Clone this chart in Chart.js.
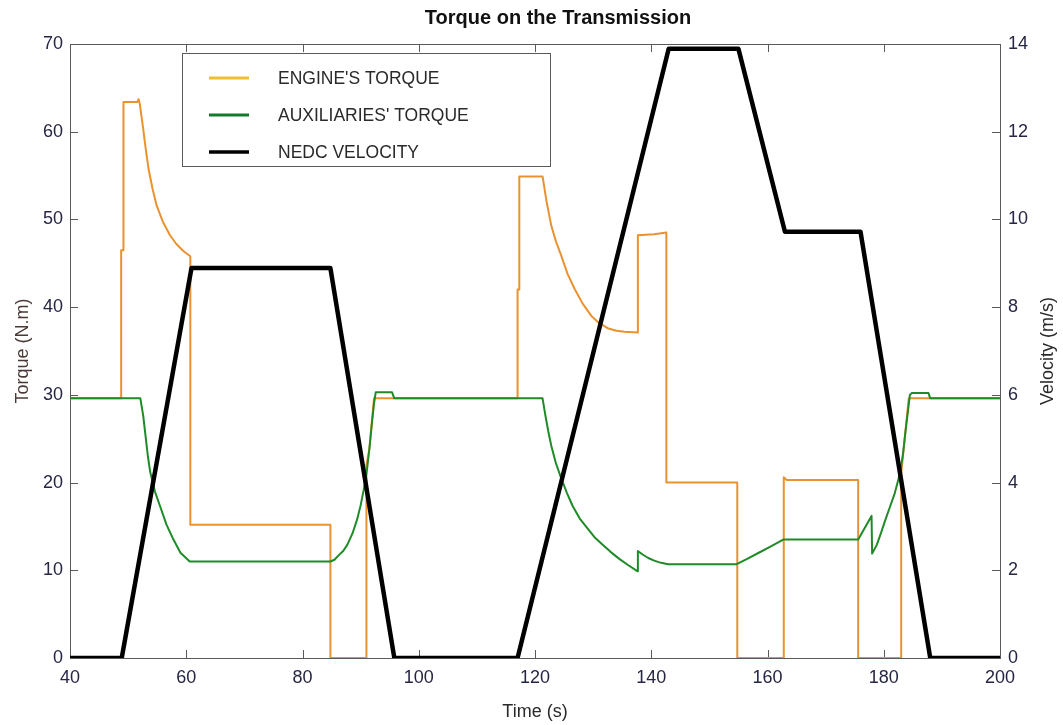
<!DOCTYPE html>
<html>
<head>
<meta charset="utf-8">
<script src="https://cdn.jsdelivr.net/npm/chart.js@4.4.0/dist/chart.umd.min.js"></script>
<style>
  html, body { margin: 0; padding: 0; background: #fff; }
</style>
</head>
<body>
<canvas id="chart" width="1063" height="725"></canvas>
<script>
// time (s) / value pairs
const engineTime = [40, 48.8, 48.8, 49.2, 49.2, 51.6, 51.8, 52.0, 52.6, 53.0, 53.5, 54.2, 54.9, 56.0, 57.2, 58.3, 59.5, 60.7, 60.7, 84.8, 84.8, 91.0, 91.0, 91.5, 92.3, 117.0, 117.0, 117.3, 117.3, 121.3, 122.0, 122.8, 123.6, 124.5, 125.6, 126.8, 128.2, 129.7, 131.0, 132.5, 134.0, 135.4, 137.7, 137.7, 140.5, 142.6, 142.6, 154.8, 154.8, 162.8, 162.8, 163.3, 175.6, 175.6, 183.0, 183.0, 183.7, 184.3, 200];
const engineTorque = [29.6, 29.6, 46.5, 46.5, 63.4, 63.4, 63.7, 63.2, 60.3, 58.2, 55.8, 53.5, 51.6, 49.7, 48.2, 47.2, 46.4, 45.8, 15.2, 15.2, 0, 0, 22.0, 23.8, 29.6, 29.6, 42.0, 42.0, 54.9, 54.9, 52.0, 49.3, 47.5, 45.9, 43.8, 42.1, 40.4, 39.0, 38.2, 37.6, 37.3, 37.2, 37.1, 48.2, 48.3, 48.5, 20.0, 20.0, 0, 0, 20.6, 20.3, 20.3, 0, 0, 21.0, 25.6, 29.6, 29.6];

const auxTime = [40, 52.1, 52.6, 53.0, 53.4, 53.8, 54.6, 55.5, 56.6, 57.8, 59.0, 60.6, 84.8, 85.5, 86.2, 87.0, 87.7, 88.6, 89.4, 90.0, 90.6, 91.1, 91.5, 91.9, 92.3, 92.6, 95.4, 95.8, 121.3, 121.8, 122.3, 122.8, 123.6, 124.5, 125.5, 126.5, 127.7, 129.0, 130.2, 131.5, 133.0, 134.5, 136.0, 137.6, 137.7, 138.5, 139.5, 140.5, 141.7, 142.9, 154.7, 156.5, 158.5, 160.5, 162.7, 175.6, 177.9, 178.0, 178.8, 179.5, 180.2, 181.0, 181.9, 182.3, 182.8, 183.3, 183.7, 184.1, 184.5, 184.8, 187.7, 188.0, 200];
const auxTorque = [29.6, 29.6, 27.6, 25.3, 23.0, 21.2, 19.0, 17.3, 15.2, 13.5, 12.0, 11.0, 11.0, 11.2, 11.7, 12.2, 12.9, 14.2, 15.8, 17.4, 19.4, 21.5, 23.8, 26.5, 29.0, 30.3, 30.3, 29.6, 29.6, 27.6, 25.8, 24.2, 22.2, 20.5, 18.8, 17.3, 15.9, 14.8, 13.8, 13.0, 12.1, 11.3, 10.6, 9.9, 12.2, 11.8, 11.4, 11.1, 10.85, 10.7, 10.7, 11.3, 12.0, 12.7, 13.5, 13.5, 16.2, 11.9, 12.9, 14.2, 15.6, 17.1, 18.8, 19.8, 21.1, 23.2, 25.6, 27.8, 30.0, 30.2, 30.2, 29.6, 29.6];

const speedTime = [40, 48.9, 60.9, 84.8, 95.8, 117, 143, 155, 163, 176, 188, 200];
const speedValue = [0, 0, 8.89, 8.89, 0, 0, 13.89, 13.89, 9.72, 9.72, 0, 0];

const xTicks = [40, 200, 20];
const torqueTicks = [0, 70, 10];
const speedTicks = [0, 14, 2];

const legendColors = ['#F2BE2C', '#127A2C', '#000000'];
const tickColor = '#262645';
const chartTitle = 'Torque on the Transmission';
const speedTitle = 'Velocity (m/s)';

function pairs(xs, ys) {
    return xs.map((x, i) => ({ x: x, y: ys[i] }));
}

Chart.defaults.font.family = "'Liberation Sans', Arial, sans-serif";

// inward ticks, the box round the plot, and the titles placed like the original
const frameTicks = {
    id: 'frameTicks',
    beforeDatasetsDraw(chart) {
        const { ctx, chartArea: a, scales } = chart;
        const len = 8;
        ctx.save();
        ctx.strokeStyle = '#5a5a5a';
        ctx.lineWidth = 1;
        ctx.beginPath();
        scales.x.ticks.forEach(t => {
            const px = Math.round(scales.x.getPixelForValue(t.value)) + 0.5;
            ctx.moveTo(px, a.bottom); ctx.lineTo(px, a.bottom - len);
            ctx.moveTo(px, a.top); ctx.lineTo(px, a.top + len);
        });
        scales.y.ticks.forEach(t => {
            const py = Math.round(scales.y.getPixelForValue(t.value)) + 0.5;
            ctx.moveTo(a.left, py); ctx.lineTo(a.left + len, py);
        });
        scales.y1.ticks.forEach(t => {
            const py = Math.round(scales.y1.getPixelForValue(t.value)) + 0.5;
            ctx.moveTo(a.right, py); ctx.lineTo(a.right - len, py);
        });
        ctx.stroke();
        ctx.strokeRect(Math.round(a.left) + 0.5, Math.round(a.top) + 0.5,
            Math.round(a.right - a.left), Math.round(a.bottom - a.top));

        // main title, a bit right of centre as in the picture
        ctx.font = "bold 20px 'Liberation Sans', Arial, sans-serif";
        ctx.fillStyle = '#111';
        ctx.textAlign = 'center';
        ctx.textBaseline = 'middle';
        ctx.fillText(chartTitle, a.left + 488, 18);

        // right axis title reads upwards in the original
        ctx.translate(a.right + 48, (a.top + a.bottom) / 2);
        ctx.rotate(-Math.PI / 2);
        ctx.font = "18px 'Liberation Sans', Arial, sans-serif";
        ctx.fillStyle = '#2a2a2a';
        ctx.fillText(speedTitle, 0, 0);
        ctx.restore();
    }
};

// legend box like the original one
const boxLegend = {
    id: 'boxLegend',
    afterDatasetsDraw(chart) {
        const { ctx, chartArea: a } = chart;
        const x0 = a.left + 112, y0 = a.top + 9, w = 368, h = 113;
        ctx.save();
        ctx.fillStyle = '#fff';
        ctx.fillRect(x0, y0, w, h);
        ctx.strokeStyle = '#5a5a5a';
        ctx.lineWidth = 1;
        ctx.strokeRect(x0 + 0.5, y0 + 0.5, w, h);
        ctx.font = "17.5px 'Liberation Sans', Arial, sans-serif";
        ctx.textBaseline = 'middle';
        chart.data.datasets.forEach((ds, i) => {
            const y = y0 + 25 + i * 37;
            ctx.strokeStyle = legendColors[i];
            ctx.lineWidth = i === 2 ? 3.5 : 3;
            ctx.beginPath();
            ctx.moveTo(x0 + 27, y);
            ctx.lineTo(x0 + 67, y);
            ctx.stroke();
            ctx.fillStyle = '#2a2a2a';
            ctx.fillText(ds.label, x0 + 96, y + 1);
        });
        ctx.restore();
    }
};

const ctx = document.getElementById('chart');

let torqueChart = new Chart(ctx, {
    type: 'line',
    data: {
        datasets: [
            {
                label: "ENGINE'S TORQUE",
                data: pairs(engineTime, engineTorque),
                borderColor: '#EB9230',
                borderWidth: 2,
                yAxisID: 'y',
                order: 3
            },
            {
                label: "AUXILIARIES' TORQUE",
                data: pairs(auxTime, auxTorque),
                borderColor: '#1F8B28',
                borderWidth: 2,
                yAxisID: 'y',
                order: 2
            },
            {
                label: 'NEDC VELOCITY',
                data: pairs(speedTime, speedValue),
                borderColor: '#000',
                borderWidth: 4.5,
                yAxisID: 'y1',
                order: 1
            }
        ]
    },
    options: {
        responsive: false,
        animation: false,
        elements: {
            point: { radius: 0 },
            line: { tension: 0, borderJoinStyle: 'round', borderCapStyle: 'round' }
        },
        layout: { padding: { top: 44 } },
        plugins: {
            legend: { display: false },
            tooltip: { enabled: false },
            title: { display: false }
        },
        scales: {
            x: {
                type: 'linear',
                min: xTicks[0],
                max: xTicks[1],
                ticks: { stepSize: xTicks[2], color: tickColor, font: { size: 18 }, padding: 9, maxRotation: 0, autoSkip: false },
                grid: { display: false, drawTicks: false },
                border: { display: false },
                title: { display: true, text: 'Time (s)', color: '#2a2a2a', font: { size: 18 }, padding: { top: 0, bottom: 2 } },
                afterFit(s) { s.height = 67; }
            },
            y: {
                position: 'left',
                min: torqueTicks[0],
                max: torqueTicks[1],
                ticks: { stepSize: torqueTicks[2], color: tickColor, font: { size: 18 }, padding: 7 },
                grid: { display: false, drawTicks: false },
                border: { display: false },
                title: { display: true, text: 'Torque (N.m)', color: '#4a3a36', font: { size: 18 }, padding: { top: 12, bottom: 0 } },
                afterFit(s) { s.width = 70; }
            },
            y1: {
                position: 'right',
                min: speedTicks[0],
                max: speedTicks[1],
                ticks: { stepSize: speedTicks[2], color: tickColor, font: { size: 18 }, padding: 8 },
                grid: { display: false, drawTicks: false },
                border: { display: false },
                afterFit(s) { s.width = 63; }
            }
        }
    },
    plugins: [frameTicks, boxLegend]
});
</script>
</body>
</html>
